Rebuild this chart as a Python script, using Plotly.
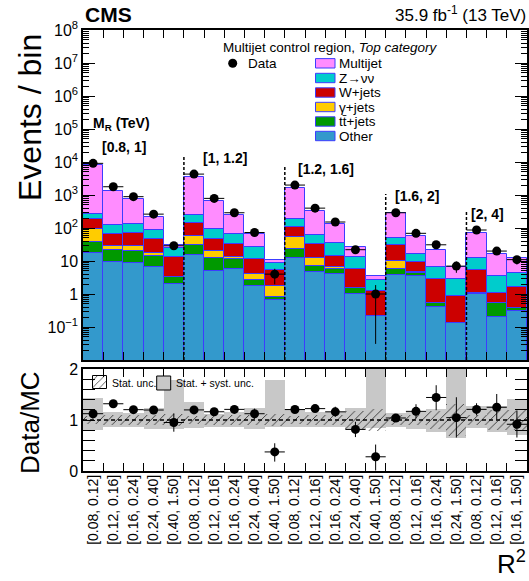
import plotly.graph_objects as go

# ---------------- data ----------------
mr_groups = ["[0.8, 1]", "[1, 1.2]", "[1.2, 1.6]", "[1.6, 2]", "[2, 4]"]
group_sizes = [5, 5, 5, 4, 3]
r2_bins = ["[0.08, 0.12]", "[0.12, 0.16]", "[0.16, 0.24]", "[0.24, 0.40]", "[0.40, 1.50]",
           "[0.08, 0.12]", "[0.12, 0.16]", "[0.16, 0.24]", "[0.24, 0.40]", "[0.40, 1.50]",
           "[0.08, 0.12]", "[0.12, 0.16]", "[0.16, 0.24]", "[0.24, 0.40]", "[0.40, 1.50]",
           "[0.08, 0.12]", "[0.12, 0.16]", "[0.16, 0.24]", "[0.24, 1.50]",
           "[0.08, 0.12]", "[0.12, 0.16]", "[0.16, 1.50]"]

other    = [17, 9.3, 8.9, 6.8, 2.0, 14.8, 5.1, 5.6, 1.8, 0.66, 12, 4.6, 4.0, 1.0, 0.22, 3.8, 3.6, 0.41, 0.13, 1.0, 0.2, 0.31]
ttjets   = [21, 11.7, 11.1, 7.7, 1.25, 16.2, 7.5, 5.6, 0.8, 0.17, 11, 2.5, 1.8, 0.55, 0, 1.8, 0.7, 0.14, 0, 0.1, 0.32, 0.07]
gjets    = [54, 8, 8, 2.5, 0, 28, 7.8, 1.6, 1.4, 0.91, 29, 4.9, 1.0, 0, 0, 4.6, 0.5, 0, 0, 0, 0, 0]
wjets    = [94, 37, 41, 29, 9.55, 79, 27.6, 19.2, 7.5, 3.56, 53, 21, 7.7, 4.05, 1.0, 20.3, 4.3, 2.3, 0.76, 4.3, 0.53, 1.28]
znunu    = [89, 57, 60, 41, 12.8, 102, 44, 33, 14.5, 3.2, 77, 29, 19.5, 7.9, 1.37, 18.5, 7.1, 3.95, 1.9, 6.6, 2.45, 2.64]
multijet = [7825, 1227, 611, 133, 4.9, 3350, 588, 175, 39, 2.2, 1478, 265, 97, 13.5, 1.0, 230, 42.8, 14.7, 3.9, 60, 12.5, 7.7]
data     = [9100, 1780, 890, 263, 29, 4300, 790, 290, 73, 4, 2000, 400, 152, 22, 1, 290, 69, 31, 7, 87, 20, 11]

ratio_err_up = [0.02, 0.04, 0.05, 0.06, 0.18, 0.03, 0.05, 0.07, 0.10, 0.17, 0.03, 0.07, 0.10, 0.15, 0.24, 0.07, 0.14, 0.24, 0.40, 0.12, 0.26, 0.26]
ratio_err_dn = [0.02, 0.04, 0.05, 0.06, 0.18, 0.03, 0.05, 0.07, 0.10, 0.19, 0.03, 0.07, 0.10, 0.15, 0.27, 0.07, 0.14, 0.25, 0.39, 0.12, 0.24, 0.26]

# stat + syst band edges (ratio units) and stat-only half width
band_up  = [1.43, 1.16, 1.13, 1.23, 1.78, 1.36, 1.11, 1.16, 1.24, 1.78, 1.22, 1.16, 1.16, 1.24, 2.00, 1.13, 1.16, 1.22, 2.00, 1.28, 1.27, 1.41]
band_dn  = [0.80, 0.87, 0.87, 0.82, 0.82, 0.84, 0.86, 0.87, 0.82, 0.87, 0.87, 0.87, 0.86, 0.82, 0.84, 0.87, 0.83, 0.77, 0.65, 0.84, 0.77, 0.71]
stat_unc = [0.08, 0.09, 0.09, 0.10, 0.12, 0.08, 0.09, 0.10, 0.10, 0.12, 0.08, 0.09, 0.10, 0.17, 0.22, 0.09, 0.10, 0.18, 0.31, 0.10, 0.20, 0.20]

# ---------------- geometry helpers ----------------
W, H = 529, 581
L, R, T, B = 83, 2, 30, 110
PW, PH = W - L - R, H - T - B


def fx(xp):
    return (xp - L) / PW


def fy(yp):
    return (H - B - yp) / PH


n = len(data)
xc = [i + 0.5 for i in range(n)]
layers = [("Other", other, "#3399cc"), ("tt̄+jets", ttjets, "#009900"),
          ("γ+jets", gjets, "#ffcc00"), ("W+jets", wjets, "#cc0000"),
          ("Z→νν", znunu, "#00cccc"), ("Multijet", multijet, "#ff8cff")]
OUTLINE = "#3c3cff"

mc_total = [sum(v) for v in zip(other, ttjets, gjets, wjets, znunu, multijet)]
ratio = [d / m for d, m in zip(data, mc_total)]
err_top_up = [e * m for e, m in zip(ratio_err_up, mc_total)]
err_top_dn = [min(e * m, 0.999 * d) for e, m, d in zip(ratio_err_dn, mc_total, data)]

fig = go.Figure()

cum = [0.0] * n
for i, (name, vals, col) in enumerate(layers):
    base = None if i == 0 else list(cum)
    fig.add_trace(go.Bar(x=xc, y=vals, base=base, width=1, name=name,
                         marker=dict(color=col, line=dict(color=OUTLINE, width=1)),
                         xaxis="x", yaxis="y", showlegend=False))
    cum = [c + v for c, v in zip(cum, vals)]

fig.add_trace(go.Scatter(x=xc, y=data, mode="markers", name="Data",
                         marker=dict(color="black", size=9),
                         error_x=dict(type="constant", value=0.5, color="black", thickness=1, width=0),
                         error_y=dict(type="data", array=err_top_up, arrayminus=err_top_dn,
                                      color="black", thickness=1, width=0),
                         xaxis="x", yaxis="y", showlegend=False))

# ratio panel
fig.add_trace(go.Bar(x=xc, y=[u - d for u, d in zip(band_up, band_dn)], base=band_dn, width=1,
                     marker=dict(color="#c8c8c8", line=dict(width=0)),
                     xaxis="x2", yaxis="y2", showlegend=False))
fig.add_trace(go.Bar(x=xc, y=[2 * s for s in stat_unc], base=[1 - s for s in stat_unc], width=1,
                     marker=dict(color="#333333", line=dict(width=0),
                                 pattern=dict(shape="/", size=6, solidity=0.15, fillmode="replace")),
                     xaxis="x2", yaxis="y2", showlegend=False))
fig.add_trace(go.Scatter(x=[0, n], y=[1, 1], mode="lines",
                         line=dict(color="black", width=1.5, dash="4px,3px"),
                         xaxis="x2", yaxis="y2", showlegend=False))
fig.add_trace(go.Scatter(x=xc, y=ratio, mode="markers",
                         marker=dict(color="black", size=9),
                         error_x=dict(type="constant", value=0.5, color="black", thickness=1, width=0),
                         error_y=dict(type="data", array=ratio_err_up, arrayminus=ratio_err_dn,
                                      color="black", thickness=1, width=0),
                         xaxis="x2", yaxis="y2", showlegend=False))

# ratio legend hatched key (in ratio axis units)
key_x0 = (92.7 - L) / (PW / n)
key_x1 = (107.3 - L) / (PW / n)
fig.add_trace(go.Bar(x=[(key_x0 + key_x1) / 2], y=[0.27], base=[1.6], width=key_x1 - key_x0,
                     marker=dict(color="#333333", line=dict(color="black", width=1),
                                 pattern=dict(shape="/", size=5, solidity=0.15, fillmode="replace")),
                     xaxis="x2", yaxis="y2", showlegend=False))

# invisible trace so the label axis (x3) is active
fig.add_trace(go.Scatter(x=xc, y=ratio, mode="markers", marker=dict(opacity=0),
                         hoverinfo="skip", xaxis="x3", yaxis="y2", showlegend=False))

FONT = "Liberation Sans, Arial, Helvetica, sans-serif"
axis_common = dict(showline=True, linecolor="black", linewidth=1.5, mirror="allticks",
                   showgrid=False, zeroline=False, ticks="inside", tickcolor="black", tickwidth=1)

log_ticks = list(range(-1, 9))
log_text = []
for k in log_ticks:
    if k == 0:
        log_text.append("1")
    elif k == 1:
        log_text.append("10")
    elif k < 0:
        log_text.append("10<sup>−%d</sup>" % (-k))
    else:
        log_text.append("10<sup>%d</sup>" % k)
minor_log = [m * 10 ** k for k in range(-2, 8) for m in range(2, 10)]

fig.update_layout(
    width=W, height=H, margin=dict(l=L, r=R, t=T, b=B, autoexpand=False),
    plot_bgcolor="white", paper_bgcolor="white", barmode="overlay", bargap=0,
    showlegend=False, font=dict(family=FONT, color="black", size=14),
    xaxis=dict(domain=[0, 1], anchor="y", range=[0, n], tickvals=list(range(n + 1)),
               showticklabels=False, ticklen=8, **axis_common),
    xaxis2=dict(domain=[0, 1], anchor="y2", range=[0, n], matches="x",
                tickvals=list(range(n + 1)), showticklabels=False, ticklen=8, **axis_common),
    xaxis3=dict(overlaying="x2", anchor="y2", side="bottom", range=[0, n], matches="x",
                tickvals=xc, ticktext=r2_bins, tickangle=-90, ticks="", showline=False,
                showgrid=False, zeroline=False, tickfont=dict(size=14)),
    yaxis=dict(domain=[fy(360), 1], anchor="x", type="log", range=[-2, 8],
               tickvals=[10 ** k for k in log_ticks], ticktext=log_text, ticklen=12,
               tickfont=dict(size=16),
               minor=dict(tickvals=minor_log, ticks="inside", ticklen=6, tickcolor="black"),
               **axis_common),
    yaxis2=dict(domain=[0, fy(369)], anchor="x2", range=[0, 2], tickvals=[0, 1, 2], ticklen=12,
                tickfont=dict(size=16),
                minor=dict(dtick=0.2, ticks="inside", ticklen=6, tickcolor="black"),
                **axis_common),
)

ann = []
shapes = []


def text(xp, yp, s, size, xanchor="left", yanchor="middle", bold=False, angle=0):
    if bold:
        s = "<b>" + s + "</b>"
    ann.append(dict(x=fx(xp), y=fy(yp), xref="paper", yref="paper", text=s, showarrow=False,
                    xanchor=xanchor, yanchor=yanchor, textangle=angle,
                    font=dict(size=size, family=FONT, color="black")))


text(83, 14, "CMS", 21, bold=True)
text(528, 14, "35.9 fb<sup>-1</sup> (13 TeV)", 17, xanchor="right")
text(30, 118, "Events / bin", 32, xanchor="center", angle=-90)
text(30, 423, "Data/MC", 26, xanchor="center", angle=-90)
text(528, 581, "R<sup>2</sup>", 26, xanchor="right", yanchor="bottom")

# legend
text(221, 47.5, "Multijet control region, <i>Top category</i>", 13.5)
shapes.append(dict(type="circle", xref="paper", yref="paper", x0=fx(228.2), x1=fx(237.2),
                   y0=fy(67.8), y1=fy(58.8), fillcolor="black", line=dict(width=0)))
text(246, 63.3, "Data", 13.5)
rows = [63.3, 78, 92.5, 107, 121.5, 136]
for (name, vals, col), yr in zip(layers[::-1], rows):
    shapes.append(dict(type="rect", xref="paper", yref="paper", x0=fx(315.5), x1=fx(335),
                       y0=fy(yr + 4.7), y1=fy(yr - 4.7), fillcolor=col,
                       line=dict(color=OUTLINE, width=1)))
    text(337, yr, name, 13.5)

# M_R labels
text(91, 124, "M<sub>R</sub> (TeV)", 14, bold=True)
label_pos = [(100, 146.5), (201, 158), (296, 169), (393, 196), (469, 214)]
start = 0
for g, sz, (lx, ly) in zip(mr_groups, group_sizes, label_pos):
    text(lx, ly, g, 14, bold=True)
    if start > 0:
        shapes.append(dict(type="line", xref="x", yref="paper", x0=start, x1=start,
                           y0=fy(360), y1=fy(ly - 2),
                           line=dict(color="black", width=1.5, dash="3px,2px")))
    start += sz

# ratio legend
text(109.5, 383, "Stat. unc.", 10.5)
shapes.append(dict(type="rect", xref="paper", yref="paper", x0=fx(156.7), x1=fx(170.7),
                   y0=fy(390), y1=fy(376), fillcolor="#c8c8c8", line=dict(color="black", width=1)))
text(173.5, 383, "Stat. + syst. unc.", 10.5)

fig.update_layout(annotations=ann, shapes=shapes)
fig.write_html("out.html", config={"displayModeBar": False},
               post_script="document.body.style.margin='0';document.body.style.overflow='hidden';")
